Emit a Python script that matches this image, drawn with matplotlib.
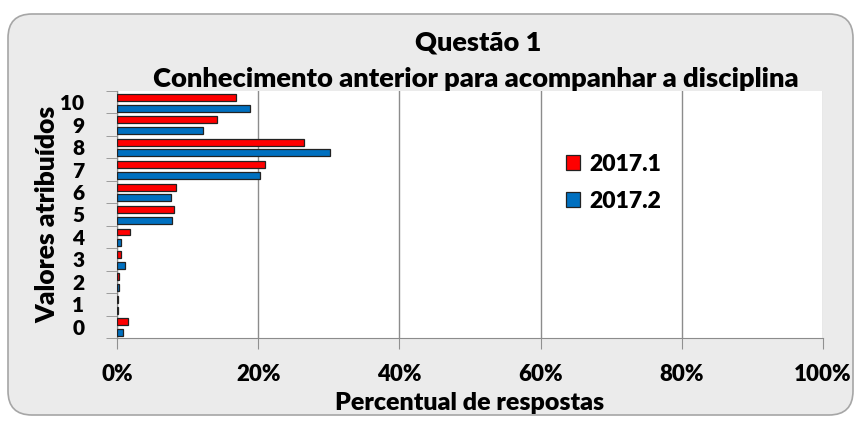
# Questão 1 - barras horizontais agrupadas (2017.1 x 2017.2)

import numpy as np
import matplotlib.pyplot as plt
from matplotlib.patches import FancyBboxPatch
from matplotlib.transforms import IdentityTransform

plt.rcParams['font.family'] = ['Lato', 'DejaVu Sans']
plt.rcParams['font.weight'] = 'bold'

categorias = ['0', '1', '2', '3', '4', '5', '6', '7', '8', '9', '10']
v2017_1 = [1.5, 0.15, 0.3, 0.5, 1.8, 8.1, 8.3, 20.9, 26.5, 14.2, 16.8]
v2017_2 = [0.8, 0.15, 0.3, 1.1, 0.6, 7.8, 7.6, 20.3, 30.2, 12.2, 18.9]
series = ['2017.1', '2017.2']
cores = ['#ff0000', '#0070c0']
xticks = [0, 20, 40, 60, 80, 100]

fig = plt.figure(figsize=(8.61, 4.21), dpi=100)
fig.patch.set_facecolor('white')

# moldura arredondada estilo Excel
moldura = FancyBboxPatch((8, 6), 845, 401, boxstyle='round,pad=0,rounding_size=24',
                         facecolor='#ebebeb', edgecolor='#a6a6a6', linewidth=1.2,
                         transform=IdentityTransform(), zorder=-1)
fig.add_artist(moldura)

ax = fig.add_axes([117 / 861, 83 / 421, 706 / 861, 247 / 421])
ax.set_zorder(2)
ax.set_facecolor('white')

y = np.arange(len(categorias))
h = 0.31
ax.barh(y + 0.22, v2017_1, height=h, color=cores[0], edgecolor='#222222',
        linewidth=0.9, label=series[0], zorder=3)
ax.barh(y - 0.26, v2017_2, height=h, color=cores[1], edgecolor='#222222',
        linewidth=0.9, label=series[1], zorder=3)

ax.set_xlim(0, 100)
ax.set_ylim(-0.5, len(categorias) - 0.5)
ax.set_xticks(xticks)
ax.set_xticklabels([f'{v}%' for v in xticks], fontsize=16, fontweight='heavy')
ax.set_yticks(y)
ax.set_yticklabels(categorias, fontsize=15, fontweight='heavy')
ax.set_yticks(np.arange(-0.5, len(categorias)), minor=True)
ax.tick_params(axis='y', which='major', length=0, pad=23.5)
ax.tick_params(axis='y', which='minor', length=8, color='#909090')
ax.tick_params(axis='x', length=8, color='#909090', pad=11)

ax.grid(axis='x', color='#8c8c8c', linewidth=1, zorder=1)
ax.set_axisbelow(True)
for lado in ['top', 'right']:
    ax.spines[lado].set_visible(False)
for lado in ['left', 'bottom']:
    ax.spines[lado].set_color('#8c8c8c')

ax.set_xlabel('Percentual de respostas', fontsize=18, fontweight='heavy', labelpad=5)
ax.set_ylabel('Valores atribuídos', fontsize=19, fontweight='heavy', labelpad=1)

fig.text(478 / 861, 1 - 42 / 421, 'Questão 1', ha='center', va='center',
         fontsize=19.5, fontweight='heavy')
fig.text(476 / 861, 1 - 79 / 421, 'Conhecimento anterior para acompanhar a disciplina',
         ha='center', va='center', fontsize=19.6, fontweight='heavy')

ax.legend(loc='upper left', bbox_to_anchor=(0.607, 0.83), frameon=False,
          prop={'size': 16.5, 'weight': 'heavy'}, handlelength=0.6, handleheight=0.6,
          handletextpad=0.4, labelspacing=0.7)

fig.savefig('out.png', dpi=100, facecolor='white')
